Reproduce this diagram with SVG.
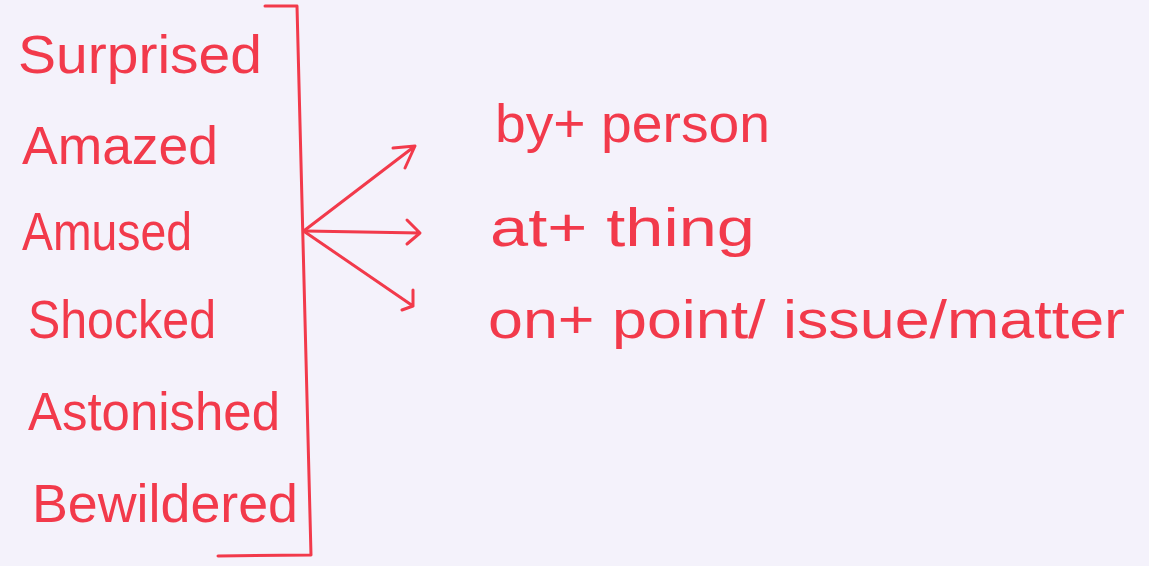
<svg xmlns="http://www.w3.org/2000/svg" width="1149" height="566" viewBox="0 0 1149 566">
<style>
.t{font-family:"Liberation Sans","DejaVu Sans",sans-serif;font-size:54px;fill:#f23a4b;}
.ln{stroke:#f23a4b;stroke-width:3;fill:none;stroke-linecap:round;stroke-linejoin:round;}
</style>
<rect width="1149" height="566" fill="#f4f2fb"/>
<g id="bracket">
<path class="ln" d="M265,6 L297,6 L311,555 L218,556"/>
</g>
<g id="surprised"><text class="t" x="18" y="73" textLength="244" lengthAdjust="spacingAndGlyphs">Surprised</text></g>
<g id="amazed"><text class="t" x="22" y="164" textLength="196" lengthAdjust="spacingAndGlyphs">Amazed</text></g>
<g id="amused"><text class="t" x="22" y="250" textLength="170" lengthAdjust="spacingAndGlyphs">Amused</text></g>
<g id="shocked"><text class="t" x="28" y="338" textLength="188" lengthAdjust="spacingAndGlyphs">Shocked</text></g>
<g id="astonished"><text class="t" x="28" y="430" textLength="252" lengthAdjust="spacingAndGlyphs">Astonished</text></g>
<g id="bewildered"><text class="t" x="32" y="522" textLength="266" lengthAdjust="spacingAndGlyphs">Bewildered</text></g>
<g id="by-person"><text class="t" x="495" y="142" textLength="275" lengthAdjust="spacingAndGlyphs">by+ person</text></g>
<g id="at-thing"><text class="t" x="490" y="246" textLength="265" lengthAdjust="spacingAndGlyphs">at+ thing</text></g>
<g id="on-point"><text class="t" x="488" y="338" textLength="637" lengthAdjust="spacingAndGlyphs">on+ point/ issue/matter</text></g>
<g id="connectors">
<path class="ln" d="M305,230 L415,146 M393,148 L415,146 L405,168"/>
<path class="ln" d="M305,231 L420,233 M407,220 L420,233 L407,244"/>
<path class="ln" d="M305,232 L413,306 M413,290 L413,306 L402,310"/>
</g>
</svg>
